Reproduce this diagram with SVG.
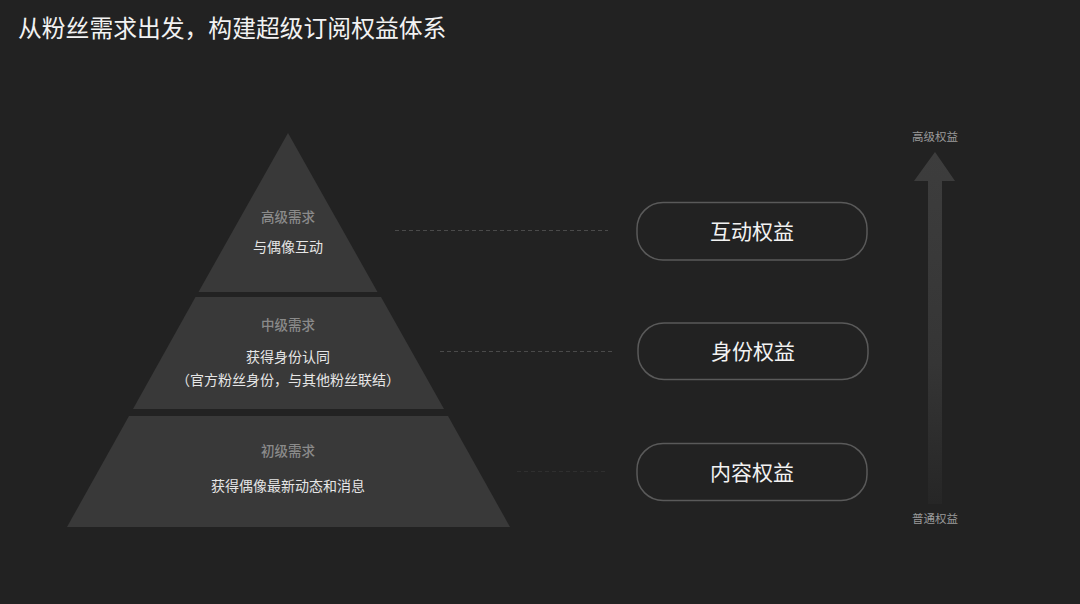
<svg xmlns="http://www.w3.org/2000/svg" width="1080" height="604" viewBox="0 0 1080 604">
<defs>
<style>
.cjk{font-family:"Noto Sans CJK SC","Noto Sans",sans-serif;}
.title{font-size:23.8px;fill:#f2f2f2;}
.lvl{font-size:13.5px;fill:#8a8a8a;font-weight:500;text-anchor:middle;}
.desc{font-size:14px;fill:#e6e6e6;text-anchor:middle;}
.tier{fill:#393939;}
.box{fill:none;stroke:#5a5a5a;stroke-width:1.5;}
.boxt{font-size:21px;fill:#f2f2f2;text-anchor:middle;}
.dash{stroke:#4a4a4a;stroke-width:1;stroke-dasharray:4 3;fill:none;}
.axl{font-size:11.5px;fill:#9a9a9a;text-anchor:middle;}
</style>
<linearGradient id="arr" x1="0" y1="0" x2="0" y2="1">
<stop offset="0" stop-color="#3d3d3d"/>
<stop offset="0.6" stop-color="#353535"/>
<stop offset="1" stop-color="#262626"/>
</linearGradient>
</defs>
<rect width="1080" height="604" fill="#222222"/>
<text class="cjk title" x="18" y="37">从粉丝需求出发，构建超级订阅权益体系</text>

<g id="tier-top">
<polygon class="tier" points="288,133 377.5,292 198.5,292"/>
<text class="cjk lvl" x="288" y="222">高级需求</text>
<text class="cjk desc" x="288" y="252">与偶像互动</text>
</g>
<g id="tier-mid">
<polygon class="tier" points="195.5,297 381,297 444,409 133,409"/>
<text class="cjk lvl" x="288" y="330">中级需求</text>
<text class="cjk desc" x="288" y="362">获得身份认同</text>
<text class="cjk desc" x="288" y="385">（官方粉丝身份，与其他粉丝联结）</text>
</g>
<g id="tier-bottom">
<polygon class="tier" points="129,416 448,416 510,527 67,527"/>
<text class="cjk lvl" x="288" y="456">初级需求</text>
<text class="cjk desc" x="288" y="491">获得偶像最新动态和消息</text>
</g>

<g id="connectors">
<line class="dash" x1="395" y1="230.5" x2="608" y2="230.5"/>
<line class="dash" x1="440" y1="351.5" x2="612" y2="351.5"/>
<line class="dash" x1="517" y1="471.5" x2="608" y2="471.5" style="stroke:#2f2f2f"/>
</g>

<g id="box-interact">
<rect class="box" x="637" y="202.5" width="230" height="57.5" rx="26"/>
<text class="cjk boxt" x="752" y="238.5">互动权益</text>
</g>
<g id="box-identity">
<rect class="box" x="638" y="323" width="230" height="56.5" rx="26"/>
<text class="cjk boxt" x="753" y="358.5">身份权益</text>
</g>
<g id="box-content">
<rect class="box" x="637" y="443.5" width="230" height="57" rx="26"/>
<text class="cjk boxt" x="752" y="479.5">内容权益</text>
</g>

<g id="axis">
<polygon fill="url(#arr)" points="935,152 955,181 942,181 942,504 928,504 928,181 914,181"/>
<text class="cjk axl" x="935" y="141">高级权益</text>
<text class="cjk axl" x="935" y="523">普通权益</text>
</g>
</svg>
